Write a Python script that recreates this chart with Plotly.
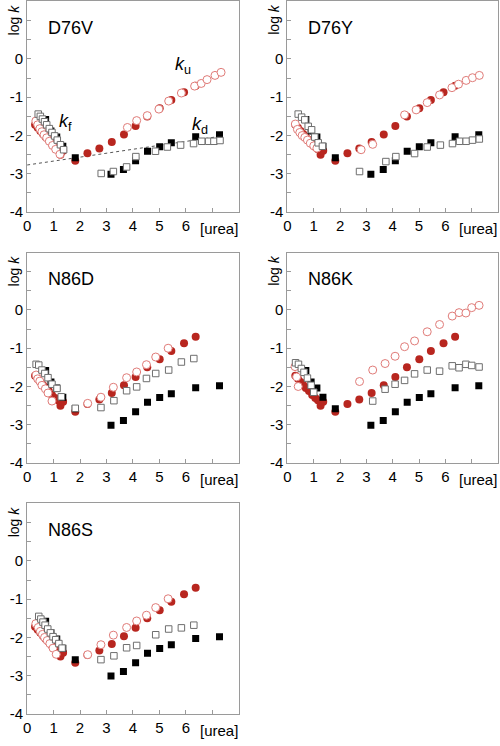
import plotly.graph_objects as go

# ---------------- data ----------------
panel_names = ["D76V", "D76Y", "N86D", "N86K", "N86S"]

# wild-type reference (filled symbols, repeated in every panel)
urea_wt_circ = [0.30, 0.40, 0.50, 0.60, 0.70, 0.82, 0.94, 1.06, 1.16, 1.26, 1.36,
                1.82, 2.28, 2.73, 3.20, 3.66, 4.10, 4.54, 5.01, 5.45, 5.93, 6.37]
logk_wt_circ = [-1.72, -1.80, -1.88, -1.96, -2.04, -2.12, -2.22, -2.30, -2.36, -2.50, -2.40,
                -2.66, -2.46, -2.34, -2.17, -1.97, -1.75, -1.50, -1.29, -1.07, -0.87, -0.70]
urea_wt_sq = [0.70, 0.90, 1.12, 1.35, 1.82, 3.17, 3.64, 4.10, 4.55, 5.01, 5.45, 6.37, 7.27]
logk_wt_sq = [-1.58, -1.88, -2.04, -2.28, -2.58, -3.01, -2.89, -2.66, -2.41, -2.29, -2.19, -2.03, -1.98]

# mutants: open circles
urea_D76V_circ = [0.33, 0.40, 0.48, 0.56, 0.64, 0.74, 0.84, 0.96, 1.08, 1.24,
                  3.79, 4.14, 4.54, 4.98, 5.35, 5.83, 6.33, 6.58, 6.80, 7.10, 7.33]
logk_D76V_circ = [-1.62, -1.72, -1.82, -1.90, -1.98, -2.06, -2.15, -2.26, -2.36, -2.49,
                  -1.79, -1.61, -1.48, -1.31, -1.10, -0.89, -0.71, -0.64, -0.54, -0.43, -0.35]
urea_D76Y_circ = [0.30, 0.38, 0.47, 0.56, 0.66, 0.76, 0.87, 1.00, 1.12,
                  2.80, 3.24, 4.45, 4.89, 5.31, 5.78, 6.25, 6.50, 6.79, 7.03, 7.29]
logk_D76Y_circ = [-1.70, -1.84, -1.92, -2.00, -2.05, -2.12, -2.20, -2.27, -2.33,
                  -2.37, -2.23, -1.46, -1.33, -1.14, -0.94, -0.75, -0.66, -0.56, -0.49, -0.43]
urea_N86D_circ = [0.34, 0.40, 0.48, 0.56, 0.69, 0.79, 0.94,
                  2.29, 2.79, 3.26, 3.76, 4.14, 4.51, 4.86, 5.33]
logk_N86D_circ = [-1.70, -1.80, -1.86, -1.97, -2.06, -2.17, -2.38,
                  -2.44, -2.28, -2.02, -1.77, -1.62, -1.43, -1.23, -1.00]
urea_N86K_circ = [0.29, 0.35, 0.41,
                  2.74, 3.24, 3.71, 4.09, 4.45, 4.83, 5.31, 5.78, 6.26, 6.52, 6.78, 7.00, 7.28]
logk_N86K_circ = [-1.48, -1.75, -2.00,
                  -1.87, -1.57, -1.40, -1.21, -0.96, -0.81, -0.57, -0.38, -0.16, -0.07, -0.08, 0.06, 0.12]
urea_N86S_circ = [0.33, 0.42, 0.50, 0.58, 0.66, 0.76, 0.86, 0.98, 1.10,
                  2.29, 2.79, 3.26, 3.76, 4.14, 4.51, 4.86, 5.33]
logk_N86S_circ = [-1.64, -1.74, -1.84, -1.92, -2.00, -2.08, -2.16, -2.28, -2.44,
                  -2.45, -2.19, -1.94, -1.74, -1.57, -1.42, -1.22, -0.99]

# mutants: open squares
urea_D76V_sq = [0.42, 0.50, 0.58, 0.66, 0.74, 0.84, 0.94, 1.04, 1.14, 1.26, 1.38,
                2.80, 3.26, 3.76, 4.11, 4.85, 5.30, 5.80, 6.29, 6.60, 6.86, 7.06, 7.29]
logk_D76V_sq = [-1.44, -1.50, -1.57, -1.64, -1.72, -1.82, -1.92, -2.01, -2.12, -2.24, -2.37,
                -2.99, -2.94, -2.82, -2.55, -2.41, -2.30, -2.25, -2.21, -2.15, -2.15, -2.15, -2.13]
urea_D76Y_sq = [0.41, 0.54, 0.66, 0.79, 0.92, 1.04, 1.17, 1.33,
                2.74, 3.74, 4.12, 4.83, 5.31, 5.81, 6.27, 6.54, 6.79, 7.03, 7.29]
logk_D76Y_sq = [-1.44, -1.52, -1.59, -1.76, -1.85, -2.04, -2.19, -2.28,
                -2.94, -2.68, -2.55, -2.47, -2.30, -2.25, -2.21, -2.15, -2.15, -2.12, -2.09]
urea_N86D_sq = [0.34, 0.44, 0.56, 0.67, 0.79, 0.94, 1.13, 1.29,
                1.82, 2.79, 3.28, 3.76, 4.14, 4.51, 4.86, 5.35, 5.83, 6.30]
logk_N86D_sq = [-1.42, -1.44, -1.57, -1.66, -1.77, -1.94, -2.05, -2.27,
                -2.57, -2.55, -2.37, -2.11, -2.01, -1.79, -1.66, -1.57, -1.36, -1.27]
urea_N86K_sq = [0.31, 0.42, 0.53, 0.63, 0.76, 0.90, 1.00,
                3.24, 3.71, 4.09, 4.45, 4.83, 5.31, 5.78, 6.26, 6.52, 6.78, 7.00, 7.28]
logk_N86K_sq = [-1.38, -1.42, -1.53, -1.63, -1.78, -1.97, -2.15,
                -2.38, -2.07, -1.94, -1.84, -1.67, -1.57, -1.60, -1.46, -1.51, -1.42, -1.45, -1.49]
urea_N86S_sq = [0.44, 0.52, 0.60, 0.68, 0.78, 0.88, 0.98, 1.08, 1.20, 1.32,
                2.79, 3.28, 3.76, 4.14, 4.86, 5.35, 5.83, 6.30]
logk_N86S_sq = [-1.45, -1.52, -1.60, -1.68, -1.78, -1.88, -1.98, -2.06, -2.16, -2.28,
                -2.58, -2.48, -2.27, -2.21, -1.93, -1.78, -1.75, -1.68]

# dotted guide line in D76V panel (kd extrapolation)
urea_kd_line = [0.0, 7.3]
logk_kd_line = [-2.77, -2.02]

x_tick_vals = [0, 1, 2, 3, 4, 5, 6, 7]
x_tick_text = ["0", "1", "2", "3", "4", "5", "6", ""]
y_tick_vals = [-4, -3.5, -3, -2.5, -2, -1.5, -1, -0.5, 0, 0.5, 1, 1.5]
y_tick_text = ["-4", "", "-3", "", "-2", "", "-1", "", "0", "", "", ""]

circ_data = {
    "D76V": (urea_D76V_circ, logk_D76V_circ),
    "D76Y": (urea_D76Y_circ, logk_D76Y_circ),
    "N86D": (urea_N86D_circ, logk_N86D_circ),
    "N86K": (urea_N86K_circ, logk_N86K_circ),
    "N86S": (urea_N86S_circ, logk_N86S_circ),
}
sq_data = {
    "D76V": (urea_D76V_sq, logk_D76V_sq),
    "D76Y": (urea_D76Y_sq, logk_D76Y_sq),
    "N86D": (urea_N86D_sq, logk_N86D_sq),
    "N86K": (urea_N86K_sq, logk_N86K_sq),
    "N86S": (urea_N86S_sq, logk_N86S_sq),
}

# ---------------- layout ----------------
W, H = 500, 746
col_dom = [[23.3 / W, 236.7 / W], [285.7 / W, 498.0 / W]]
row_px = [(0.5, 213.7), (254.6, 467.7), (508.6, 721.7)]
row_dom = [[1 - b / H, 1 - t / H] for (t, b) in row_px]

RED = "#b8261f"
PINK = "#e07b78"
FRAME = "#9a9a9a"
FONT = "Liberation Sans, Arial, Helvetica, sans-serif"

fig = go.Figure()
layout = dict(
    width=W, height=H, margin=dict(l=0, r=0, t=0, b=0),
    paper_bgcolor="white", plot_bgcolor="white", showlegend=False,
    font=dict(family=FONT, size=14, color="black"),
)
annotations = []

for i, name in enumerate(panel_names):
    r, c = divmod(i, 2)
    ax = "" if i == 0 else str(i + 1)
    xa, ya = "x" + ax, "y" + ax
    common = dict(showline=True, linecolor=FRAME, linewidth=1, mirror=True,
                  ticks="inside", ticklen=4, tickcolor=FRAME, tickwidth=1,
                  showgrid=False, zeroline=False, fixedrange=True,
                  tickfont=dict(family=FONT, size=15, color="black"))
    layout["xaxis" + ax] = dict(common, domain=col_dom[c], range=[0, 8], anchor=ya,
                                tickmode="array", tickvals=x_tick_vals, ticktext=x_tick_text)
    layout["yaxis" + ax] = dict(common, domain=row_dom[r], range=[-4, 1.5], anchor=xa,
                                tickmode="array", tickvals=y_tick_vals, ticktext=y_tick_text)

    if name == "D76V":
        fig.add_trace(go.Scatter(x=urea_kd_line, y=logk_kd_line, mode="lines",
                                 line=dict(color="#555", width=1, dash="dot"),
                                 xaxis=xa, yaxis=ya, hoverinfo="skip"))
    fig.add_trace(go.Scatter(x=urea_wt_circ, y=logk_wt_circ, mode="markers",
                             marker=dict(symbol="circle", size=8, color=RED, line=dict(width=0)),
                             xaxis=xa, yaxis=ya))
    fig.add_trace(go.Scatter(x=urea_wt_sq, y=logk_wt_sq, mode="markers",
                             marker=dict(symbol="square", size=7, color="black", line=dict(width=0)),
                             xaxis=xa, yaxis=ya))
    cu, ck = circ_data[name]
    fig.add_trace(go.Scatter(x=cu, y=ck, mode="markers",
                             marker=dict(symbol="circle", size=8, color="white",
                                         line=dict(color=PINK, width=1)),
                             xaxis=xa, yaxis=ya))
    su, sk = sq_data[name]
    fig.add_trace(go.Scatter(x=su, y=sk, mode="markers",
                             marker=dict(symbol="square", size=6.5, color="white",
                                         line=dict(color="#6e6e6e", width=1)),
                             xaxis=xa, yaxis=ya))

    annotations.append(dict(xref=xa + " domain", yref=ya + " domain", x=0.09, y=0.874,
                            text=name, showarrow=False, xanchor="left", yanchor="middle",
                            font=dict(family=FONT, size=18, color="black")))
    annotations.append(dict(xref=xa + " domain", yref=ya + " domain", x=-0.062, y=0.915,
                            text="log <i>k</i>", showarrow=False, textangle=-90,
                            xanchor="center", yanchor="middle",
                            font=dict(family=FONT, size=14, color="black")))
    annotations.append(dict(xref=xa + " domain", yref=ya + " domain", x=0.906, y=-0.077,
                            text="[urea]", showarrow=False, xanchor="center", yanchor="middle",
                            font=dict(family=FONT, size=15, color="black")))
    if name == "D76V":
        for lx, ly, txt in [(5.9, -0.17, "<i>k</i><sub>u</sub>"),
                            (1.45, -1.66, "<i>k</i><sub>f</sub>"),
                            (6.55, -1.74, "<i>k</i><sub>d</sub>")]:
            annotations.append(dict(xref=xa, yref=ya, x=lx, y=ly, text=txt, showarrow=False,
                                    xanchor="center", yanchor="middle",
                                    font=dict(family=FONT, size=18, color="black")))

layout["annotations"] = annotations
fig.update_layout(**layout)
fig.write_html("out.html", config={"displayModeBar": False},
               post_script="document.body.style.margin='0';document.body.style.overflow='hidden';")
